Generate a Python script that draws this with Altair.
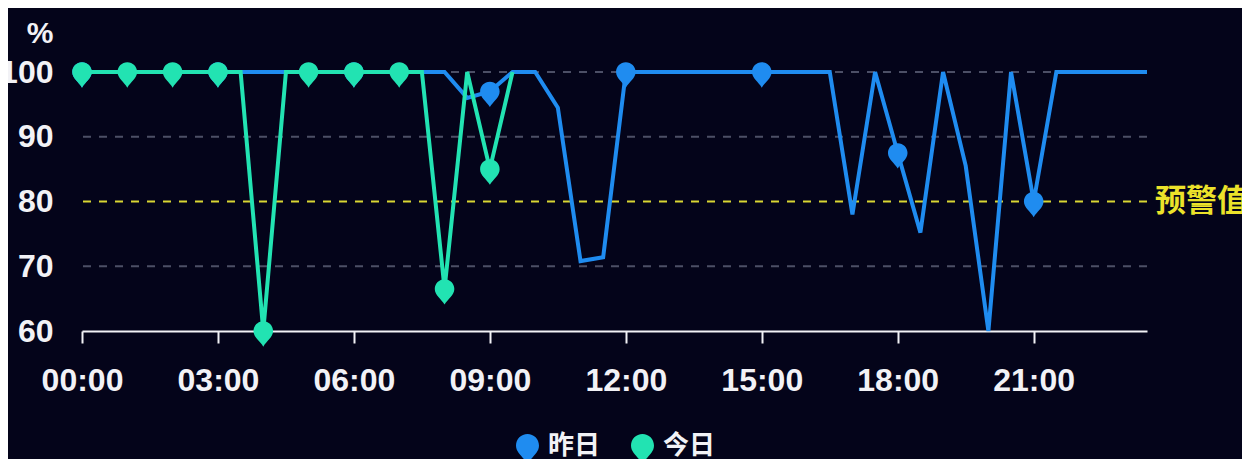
import altair as alt
import pandas as pd

hours = [0, 0.5, 1, 1.5, 2, 2.5, 3, 3.5, 4, 4.5, 5, 5.5, 6, 6.5, 7, 7.5,
         8, 8.5, 9, 9.5, 10, 10.5, 11, 11.5, 12, 12.5, 13, 13.5, 14, 14.5,
         15, 15.5, 16, 16.5, 17, 17.5, 18, 18.5, 19, 19.5, 20, 20.5, 21,
         21.5, 22, 22.5, 23, 23.5]
yesterday = [100, 100, 100, 100, 100, 100, 100, 100, 100, 100, 100, 100,
             100, 100, 100, 100, 100, 96, 97, 100, 100, 94.5, 70.8, 71.4,
             100, 100, 100, 100, 100, 100, 100, 100, 100, 100, 78, 100,
             87.5, 75.2, 100, 85.5, 60, 100, 80, 100, 100, 100, 100, 100]
today = [100, 100, 100, 100, 100, 100, 100, 100, 60, 100, 100, 100, 100,
         100, 100, 100, 66.5, 100, 85, 100]
series_names = ["昨日", "今日"]
grid_values = [70, 90, 100]
warn_value = [80]
warn_label = ["预警值"]
x_ticks = [0, 3, 6, 9, 12, 15, 18, 21]
y_ticks = [60, 70, 80, 90, 100]

BLUE = "#1f8cf0"
TEAL = "#22e3b2"
YELLOW = "#d9d633"
GRID = "#4c4f66"
WHITE = "#f2f2f6"
BG = "#04041a"
FONT = "Liberation Sans, Noto Sans CJK SC, sans-serif"
CJK = "Noto Sans CJK SC, sans-serif"
PIN = ("M0,1.2 C-0.25,0.75 -0.75,0.5 -0.75,0 A0.75,0.75 0 1 1 0.75,0 "
       "C0.75,0.5 0.25,0.75 0,1.2 Z")

df_y = pd.DataFrame({"h": hours, "v": yesterday, "s": series_names[0]})
df_t = pd.DataFrame({"h": hours[:len(today)], "v": today, "s": series_names[1]})
df_grid = pd.DataFrame({"v": grid_values})
df_warn = pd.DataFrame({"v": warn_value, "h": [hours[-1]], "t": warn_label})

x_enc = alt.X(
    "h:Q",
    scale=alt.Scale(domain=[hours[0], hours[-1]], nice=False, zero=False),
    axis=alt.Axis(
        values=x_ticks,
        labelExpr="(datum.value < 10 ? '0' : '') + datum.value + ':00'",
        title=None, grid=False, labelFlush=False, labelOverlap=False,
        domainColor=WHITE, domainWidth=2, tickColor=WHITE, tickWidth=2,
        tickSize=12, labelPadding=22, labelFontSize=32, labelFont=FONT,
        labelFontWeight="bold", labelColor=WHITE,
    ),
)
y_enc = alt.Y(
    "v:Q",
    scale=alt.Scale(domain=[60, 100], nice=False, zero=False),
    axis=alt.Axis(
        values=y_ticks, title="%", titleAngle=0, titleX=-29, titleY=-39,
        titleAlign="right", titleBaseline="middle", titleFontSize=30,
        titleFont=FONT, titleFontWeight="bold", titleColor=WHITE,
        ticks=False, tickSize=0, domain=False, grid=False, labelPadding=29,
        labelFontSize=32, labelFont=FONT, labelFontWeight="bold",
        labelColor=WHITE,
    ),
)

legend = alt.Legend(
    orient="none", legendX=430, legendY=358, direction="horizontal",
    title=None, symbolType=PIN, symbolSize=940, symbolStrokeWidth=0,
    symbolOpacity=1, labelFontSize=26, labelFont=CJK, labelFontWeight="bold",
    labelColor=WHITE, labelOffset=5, columnPadding=26, padding=0,
)
color_enc = alt.Color(
    "s:N", scale=alt.Scale(domain=series_names, range=[BLUE, TEAL]),
    legend=legend,
)

grid = alt.Chart(df_grid).mark_rule(
    color=GRID, strokeWidth=2, strokeDash=[8, 8]
).encode(y=y_enc)

warn = alt.Chart(df_warn).mark_rule(
    color=YELLOW, strokeWidth=2, strokeDash=[8, 8]
).encode(y=y_enc)

warn_text = alt.Chart(df_warn).mark_text(
    align="left", baseline="middle", dx=8, fontSize=31, font=CJK,
    fontWeight="bold", color="#ece22a",
).encode(x=x_enc, y=y_enc, text="t:N")

line_y = alt.Chart(df_y).mark_line(color=BLUE, strokeWidth=4).encode(
    x=x_enc, y=y_enc)
pts_y = alt.Chart(df_y).transform_filter("datum.h % 3 == 0").mark_point(
    shape=PIN, size=680, filled=True, opacity=1, strokeWidth=0
).encode(x=x_enc, y=y_enc, color=color_enc)

line_t = alt.Chart(df_t).mark_line(color=TEAL, strokeWidth=4).encode(
    x=x_enc, y=y_enc)
pts_t = alt.Chart(df_t).transform_filter("datum.h % 1 == 0").mark_point(
    shape=PIN, size=680, filled=True, opacity=1, strokeWidth=0
).encode(x=x_enc, y=y_enc, color=color_enc)

chart = alt.layer(
    grid, warn, warn_text, line_y, pts_y, line_t, pts_t
).properties(
    width=1065, height=259, autosize="none",
    padding={"left": 74, "top": 64, "right": 95, "bottom": 128},
    background=BG,
).configure_view(stroke=None)

chart.save("out.html", embed_options={"renderer": "svg", "actions": False})
